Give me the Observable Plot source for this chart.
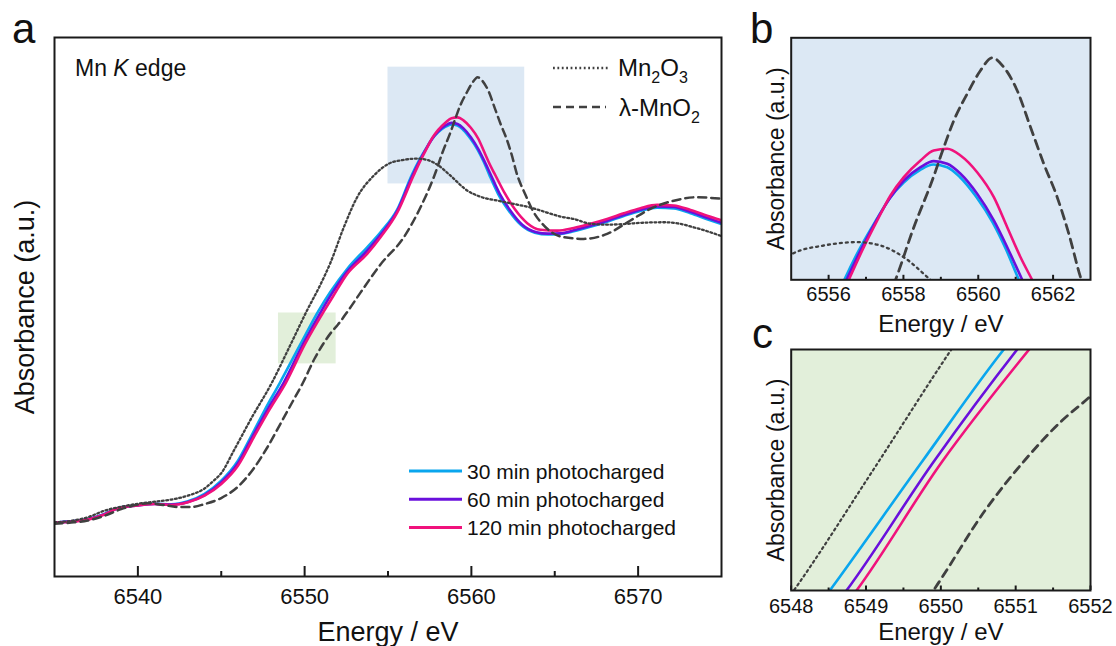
<!DOCTYPE html>
<html><head><meta charset="utf-8">
<script src="https://cdn.jsdelivr.net/npm/d3@7"></script>
<script src="https://cdn.jsdelivr.net/npm/@observablehq/plot@0.6"></script>
<style>
html,body{margin:0;padding:0;background:#fff;}
#root{position:relative;width:1116px;height:646px;overflow:hidden;font-family:"Liberation Sans",Arial,sans-serif;}
#root > svg{position:absolute;}
</style></head><body><div id="root"></div>
<script>
// ---- data: [energy (eV), normalized absorbance] ----
const mn2o3 = [[6535,0.001],[6536,0.006],[6537,0.018],[6538,0.040],[6539,0.053],[6540,0.063],[6541,0.070],[6542,0.077],[6543,0.090],[6544,0.114],[6544.55,0.140],[6545,0.165],[6545.75,0.24],[6546.8,0.348],[6548.035,0.467],[6549.1,0.588],[6550.14,0.708],[6550.95,0.795],[6551.55,0.868],[6552.35,0.986],[6553.15,1.0865],[6554.15,1.159],[6555.03,1.1983],[6555.87,1.2106],[6556.764,1.2155],[6557.387,1.2106],[6558.01,1.1933],[6558.72,1.160],[6559.75,1.109],[6560.55,1.088],[6561.55,1.0755],[6562.55,1.064],[6563.55,1.052],[6564.15,1.042],[6565.35,1.022],[6566.14,1.014],[6567.14,0.998],[6568.14,0.995],[6569.14,0.997],[6570.14,1.001],[6571.54,1.003],[6572.5,0.998],[6573.14,0.989],[6574.14,0.973],[6575.04,0.956]];
const lambdaMnO2 = [[6535,-0.004],[6536,0.000],[6537,0.007],[6538,0.023],[6539,0.045],[6540,0.060],[6540.6,0.065],[6541.5,0.059],[6542.5,0.052],[6543.2,0.052],[6544,0.062],[6545,0.082],[6546,0.120],[6547,0.185],[6547.75,0.25],[6548.5,0.325],[6549.2,0.396],[6549.9,0.467],[6550.6,0.548],[6551.13,0.598],[6551.62,0.637],[6551.98,0.66],[6552.6,0.707],[6553.35,0.768],[6554.55,0.862],[6555.95,0.953],[6556.95,1.053],[6557.79,1.160],[6558.278,1.2376],[6558.769,1.3065],[6559.08,1.3556],[6559.347,1.395],[6559.705,1.4344],[6560.06,1.4688],[6560.373,1.4875],[6560.683,1.4736],[6561.04,1.4393],[6561.397,1.3851],[6561.752,1.3311],[6562.11,1.2819],[6562.42,1.2279],[6562.733,1.1638],[6563.2,1.10],[6563.7,1.04],[6564.25,0.998],[6564.8,0.97],[6565.55,0.953],[6566.74,0.9475],[6568.14,0.964],[6569.54,1.009],[6570.74,1.048],[6572.14,1.075],[6573.54,1.0865],[6575.04,1.081]];
const pc30 = [[6535,0.000],[6536,0.004],[6537,0.012],[6538,0.029],[6538.8,0.049],[6540,0.058],[6541,0.063],[6542,0.061],[6543,0.071],[6544,0.096],[6545,0.140],[6546,0.207],[6546.75,0.284],[6547.6,0.375],[6548.516,0.467],[6549.75,0.596],[6550.841,0.708],[6551.55,0.771],[6552.55,0.847],[6553.75,0.9195],[6554.55,0.9696],[6555.55,1.045],[6556.42,1.160],[6556.85,1.208],[6557.28,1.249],[6557.63,1.280],[6558.0,1.303],[6558.45,1.322],[6558.8,1.330],[6559.17,1.326],[6559.5,1.312],[6559.95,1.282],[6560.38,1.245],[6560.74,1.205],[6561.085,1.160],[6561.6,1.098],[6562.2,1.045],[6562.95,0.995],[6563.8,0.968],[6564.6,0.962],[6565.35,0.964],[6566.14,0.973],[6567.14,0.988],[6568.14,1.005],[6569.14,1.024],[6570.14,1.041],[6571.14,1.052],[6572.14,1.049],[6573.14,1.033],[6574.14,1.013],[6575.04,0.996]];
const pc60 = [[6535,0.000],[6536,0.004],[6537,0.011],[6538,0.028],[6538.8,0.048],[6540,0.057],[6541,0.062],[6542,0.060],[6543,0.069],[6544,0.092],[6545,0.134],[6546,0.198],[6546.85,0.285],[6547.8,0.38],[6548.739,0.467],[6549.906,0.596],[6551.02,0.708],[6551.6,0.762],[6552.55,0.838],[6553.75,0.908],[6554.55,0.961],[6555.55,1.04],[6556.478,1.160],[6556.898,1.2081],[6557.30,1.25],[6557.654,1.2819],[6558.01,1.3065],[6558.456,1.3261],[6558.81,1.335],[6559.17,1.3311],[6559.525,1.3164],[6559.97,1.2869],[6560.416,1.2475],[6560.774,1.2081],[6561.175,1.160],[6561.7,1.098],[6562.3,1.045],[6563.05,0.995],[6563.9,0.970],[6564.6,0.965],[6565.35,0.966],[6566.14,0.976],[6567.14,0.991],[6568.14,1.008],[6569.14,1.027],[6570.14,1.045],[6571.14,1.056],[6572.14,1.054],[6573.14,1.038],[6574.14,1.018],[6575.04,1.0]];
const pc120 = [[6535,0.000],[6536,0.003],[6537,0.010],[6538,0.027],[6538.8,0.048],[6540,0.057],[6541,0.062],[6542,0.059],[6543,0.068],[6544,0.090],[6545,0.129],[6546,0.190],[6546.95,0.285],[6547.9,0.378],[6548.873,0.467],[6550.018,0.596],[6551.18,0.708],[6551.7,0.755],[6552.55,0.8307],[6553.75,0.8975],[6554.55,0.953],[6555.55,1.035],[6556.54,1.160],[6556.94,1.2081],[6557.30,1.2475],[6557.654,1.2844],[6558.01,1.3114],[6558.456,1.336],[6558.81,1.3507],[6559.17,1.3533],[6559.525,1.3434],[6559.97,1.3187],[6560.416,1.2819],[6560.774,1.2376],[6561.13,1.1933],[6561.44,1.160],[6562.0,1.10],[6562.6,1.047],[6563.35,1.0],[6564.15,0.978],[6565.15,0.975],[6566.14,0.984],[6567.14,0.998],[6568.14,1.014],[6569.14,1.033],[6570.14,1.050],[6571.14,1.061],[6572.14,1.059],[6573.14,1.044],[6574.14,1.025],[6575.04,1.009]];

const seriesNames = ["30 min photocharged", "60 min photocharged", "120 min photocharged"];
const seriesColors = ["#0aa6ee", "#6a10dc", "#f0127c"];
const refColor = "#404040";

// zoom windows (b: blue, c: green) highlighted in panel a
const boxB = {x1: 6555, x2: 6563.2, y1: 1.131, y2: 1.521};
const boxC = {x1: 6548.43, x2: 6551.89, y1: 0.530, y2: 0.700};

const ticksA = [6540, 6550, 6560, 6570], minorA = [6545, 6555, 6565];
const ticksB = [6556, 6558, 6560, 6562], minorB = [6557, 6559, 6561];
const ticksC = [6548, 6549, 6550, 6551, 6552], minorC = [6548.5, 6549.5, 6550.5, 6551.5];

const xLabel = "Energy / eV", yLabel = "Absorbance (a.u.)";
const FONT = "'Liberation Sans', Arial, Helvetica, sans-serif";

function lineMarks(opt) {
  const colored = [pc30, pc60, pc120].map((d, i) =>
    Plot.line(d, {x: d => d[0], y: d => d[1], stroke: seriesColors[i], strokeWidth: opt.lw,
      curve: "monotone-x", clip: true, strokeLinejoin: "round"}));
  const dotted = Plot.line(mn2o3, {x: d => d[0], y: d => d[1], stroke: refColor, strokeWidth: opt.dotW,
      strokeDasharray: opt.dotDash, curve: "monotone-x", clip: true});
  const dashed = Plot.line(lambdaMnO2, {x: d => d[0], y: d => d[1], stroke: refColor, strokeWidth: opt.dashW,
      strokeDasharray: opt.dashDash, curve: "monotone-x", clip: true});
  return [...colored, dotted, dashed];
}

function panel(p) {
  const innerH = p.height - p.mt - p.mb;
  const k = (p.y[1] - p.y[0]) / innerH;
  const marks = [];
  if (p.bg) marks.push(Plot.frame({fill: p.bg, stroke: "none"}));
  if (p.boxes) p.boxes.forEach(b => marks.push(Plot.rect([b], {x1: "x1", x2: "x2", y1: "y1", y2: "y2", fill: b.fill})));
  marks.push(...lineMarks(p));
  marks.push(Plot.ruleX(p.major, {x: d => d, y1: p.y[0], y2: p.y[0] + p.majorLen * k, stroke: "#1a1a1a", strokeWidth: 2}));
  marks.push(Plot.ruleX(p.minor, {x: d => d, y1: p.y[0], y2: p.y[0] + p.minorLen * k, stroke: "#1a1a1a", strokeWidth: 2}));
  marks.push(Plot.axisX(p.major, {tickSize: 0, tickPadding: p.tickPad, fontSize: p.tickFont, fill: "#111", tickFormat: d => String(d)}));
  marks.push(Plot.text([xLabel], {frameAnchor: "bottom", text: d => d, dy: p.titleDy, fontSize: p.titleFont,
    fill: "#111", textAnchor: "middle", lineAnchor: "middle"}));
  marks.push(Plot.text([yLabel], {frameAnchor: "left", text: d => d, rotate: -90, dx: p.ylabDx, fontSize: p.ylabFont,
    fill: "#111", textAnchor: "middle", lineAnchor: "middle"}));
  marks.push(Plot.frame({stroke: "#1a1a1a", strokeWidth: 2}));
  const svg = Plot.plot({
    width: p.width, height: p.height,
    marginTop: p.mt, marginRight: p.mr, marginBottom: p.mb, marginLeft: p.ml,
    x: {domain: p.x, axis: null}, y: {domain: p.y, axis: null},
    style: {fontFamily: FONT, background: "transparent", overflow: "visible", color: "#111"},
    marks
  });
  svg.style.left = p.left + "px";
  svg.style.top = p.top + "px";
  svg.style.maxWidth = "none";
  return svg;
}

const root = document.getElementById("root");
root.appendChild(panel({left: 0, top: 0, width: 740, height: 646, mt: 37, mr: 19, mb: 70, ml: 54,
  x: [6535, 6575], y: [-0.18, 1.62], major: ticksA, minor: minorA, majorLen: 10, minorLen: 5,
  tickFont: 22, tickPad: 12, titleFont: 27, titleDy: 55.4, ylabDx: -29.6, ylabFont: 27,
  boxes: [{...boxB, fill: "#dce8f4"}, {...boxC, fill: "#e2efda"}],
  lw: 2.6, dotW: 2.3, dotDash: "1.8,2.6", dashW: 2.5, dashDash: "8,5"}));
root.appendChild(panel({left: 740, top: 0, width: 376, height: 340, mt: 37.3, mr: 26, mb: 60.7, ml: 50.7,
  x: [6555, 6563], y: [1.16, 1.517], major: ticksB, minor: minorB, majorLen: 4.5, minorLen: 2.5,
  tickFont: 20, tickPad: 7, titleFont: 24, titleDy: 44.7, ylabDx: -15, ylabFont: 23, bg: "#dce8f4",
  lw: 2.6, dotW: 2.3, dotDash: "2,4", dashW: 2.8, dashDash: "9,6"}));
root.appendChild(panel({left: 740, top: 310, width: 376, height: 336, mt: 39, mr: 26, mb: 56, ml: 50.7,
  x: [6548, 6552], y: [0.467, 0.708], major: ticksC, minor: minorC, majorLen: 4.5, minorLen: 2.5,
  tickFont: 20, tickPad: 8, titleFont: 24, titleDy: 42.3, ylabDx: -15, ylabFont: 23, bg: "#e2efda",
  lw: 2.6, dotW: 2.2, dotDash: "2,3.5", dashW: 2.8, dashDash: "8,6"}));

// ---- overlay: panel letters, annotation and legends ----
const ov = d3.select(root).append("svg").attr("width", 1116).attr("height", 646)
  .style("left", "0px").style("top", "0px").style("font-family", FONT).attr("fill", "#111");
[["a", 12, 43], ["b", 750, 43], ["c", 752, 348]].forEach(([t, x, y]) =>
  ov.append("text").attr("x", x).attr("y", y).attr("font-size", 42).text(t));
const mk = ov.append("text").attr("x", 75).attr("y", 76).attr("font-size", 23);
mk.append("tspan").text("Mn ");
mk.append("tspan").attr("font-style", "italic").text("K");
mk.append("tspan").text(" edge");

// reference legend
ov.append("line").attr("x1", 553).attr("x2", 608).attr("y1", 68).attr("y2", 68)
  .attr("stroke", refColor).attr("stroke-width", 2.3).attr("stroke-dasharray", "1.8,2.6");
ov.append("line").attr("x1", 553).attr("x2", 606).attr("y1", 107).attr("y2", 107)
  .attr("stroke", refColor).attr("stroke-width", 2.5).attr("stroke-dasharray", "8,5");
function chem(x, y, parts) {
  const t = ov.append("text").attr("x", x).attr("y", y).attr("font-size", 24);
  let shifted = false;
  parts.forEach(([s, sub]) => {
    const ts = t.append("tspan").text(s);
    if (sub) { ts.attr("font-size", 16).attr("dy", 7); shifted = true; }
    else if (shifted) { ts.attr("dy", -7); shifted = false; }
  });
}
chem(618, 76, [["Mn"], ["2", true], ["O"], ["3", true]]);
chem(619, 116, [["λ-MnO"], ["2", true]]);

// series legend
seriesNames.forEach((name, i) => {
  const y = 471 + i * 28.3;
  ov.append("line").attr("x1", 409).attr("x2", 462).attr("y1", y).attr("y2", y)
    .attr("stroke", seriesColors[i]).attr("stroke-width", 3);
  ov.append("text").attr("x", 467).attr("y", y + 7.5).attr("font-size", 21).text(name);
});
</script></body></html>
